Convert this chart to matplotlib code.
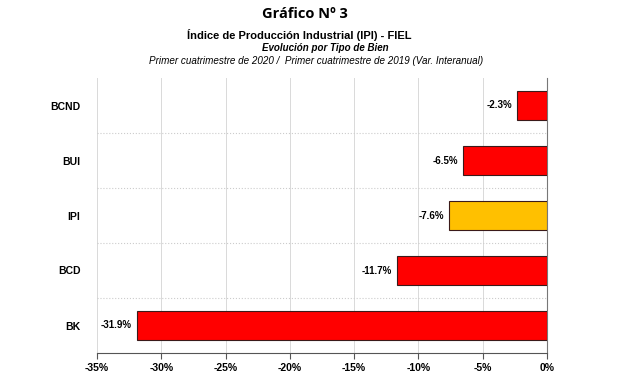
import matplotlib.pyplot as plt
from matplotlib.ticker import FuncFormatter

categories = ['BK', 'BCD', 'IPI', 'BUI', 'BCND']
values = [-31.9, -11.7, -7.6, -6.5, -2.3]
colors = ['#FF0000', '#FF0000', '#FFC000', '#FF0000', '#FF0000']
xticks = [-35, -30, -25, -20, -15, -10, -5, 0]

plt.rcParams['font.family'] = ['Liberation Sans', 'DejaVu Sans']

fig = plt.figure(figsize=(6.39, 3.83), dpi=100)
ax = fig.add_axes([97 / 639, 1 - 353 / 383, 450 / 639, 275 / 383])

y = range(len(categories))
ax.barh(y, values, height=0.53, color=colors, edgecolor='#3a1a1a', linewidth=0.8, zorder=3)
for i, v in enumerate(values):
    ax.text(v - 0.4, i, '%.1f%%' % v, ha='right', va='center', fontsize=7, fontweight='bold', zorder=4)

ax.set_xlim(-35, 0)
ax.set_ylim(-0.5, len(categories) - 0.5)
ax.set_xticks(xticks)
ax.xaxis.set_major_formatter(FuncFormatter(lambda x, p: '%d%%' % x))
ax.set_yticks(list(y))
ax.set_yticklabels(categories)
ax.set_yticks([i + 0.5 for i in range(len(categories) - 1)], minor=True)

ax.grid(axis='x', color='#d9d9d9', linewidth=0.7, zorder=0)
ax.grid(axis='y', which='minor', color='#cccccc', linestyle=':', linewidth=0.8, zorder=0)

for s in ['top', 'left']:
    ax.spines[s].set_visible(False)
ax.spines['bottom'].set_color('#555555')
ax.spines['right'].set_color('#777777')
ax.tick_params(axis='x', length=4, color='#555555', labelsize=7.5)
ax.tick_params(axis='y', which='both', length=0, labelsize=7.5, pad=12)
for lab in ax.get_xticklabels() + ax.get_yticklabels():
    lab.set_fontweight('bold')

fig.text(305 / 639, 1 - 14 / 383, 'Gráfico Nº 3', ha='center', va='center',
         fontsize=10.5, fontweight='bold', family=['Open Sans', 'DejaVu Sans'])
fig.text(299 / 639, 1 - 35 / 383, 'Índice de Producción Industrial (IPI) - FIEL',
         ha='center', va='center', fontsize=8, fontweight='bold')
fig.text(325 / 639, 1 - 48 / 383, 'Evolución por Tipo de Bien',
         ha='center', va='center', fontsize=7, fontweight='bold', style='italic')
fig.text(316 / 639, 1 - 61 / 383,
         'Primer cuatrimestre de 2020 /  Primer cuatrimestre de 2019 (Var. Interanual)',
         ha='center', va='center', fontsize=7.1, style='italic')

fig.savefig('out.png', dpi=100)
